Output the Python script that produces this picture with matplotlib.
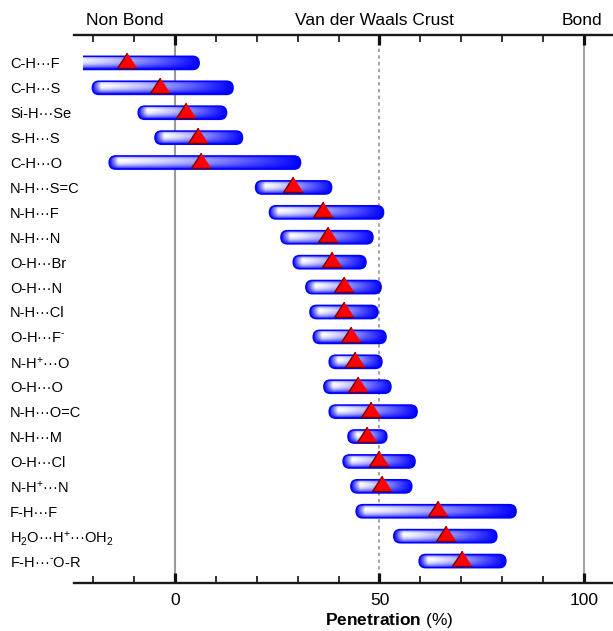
import numpy as np
import matplotlib
matplotlib.use("Agg")
import matplotlib.pyplot as plt
import matplotlib.transforms as mtransforms
from matplotlib.patches import FancyBboxPatch, BoxStyle
from matplotlib.ticker import FixedLocator

plt.rcParams['font.family'] = ['Liberation Sans', 'DejaVu Sans']
plt.rcParams['mathtext.fontset'] = 'custom'
plt.rcParams['mathtext.rm'] = 'Liberation Sans'
plt.rcParams['mathtext.it'] = 'Liberation Sans:italic'
plt.rcParams['mathtext.bf'] = 'Liberation Sans:bold'

# ---------------- data ----------------
bond_labels = [
    "C-H···F", "C-H···S", "Si-H···Se", "S-H···S", "C-H···O", "N-H···S=C",
    "N-H···F", "N-H···N", "O-H···Br", "O-H···N", "N-H···Cl", r"O-H···F$^{\text{-}}$",
    "N-H$^{+}$···O", "O-H···O", "N-H···O=C", "N-H···M", "O-H···Cl",
    "N-H$^{+}$···N", "F-H···F", "H$_{2}$O···H$^{+}$···OH$_{2}$", r"F-H···$^{\text{-}}$O-R",
]
range_low = [-22.5, -20.2, -9.0, -4.9, -16.1, 19.7, 23.1, 25.9, 28.9, 32.0, 33.0,
             33.8, 37.7, 36.4, 37.7, 42.3, 41.1, 43.0, 44.3, 53.5, 59.7]
range_high = [5.9, 14.2, 12.6, 16.5, 30.7, 38.3, 51.0, 48.4, 46.7, 50.4, 49.6,
              51.6, 50.6, 52.8, 59.2, 51.8, 58.7, 57.9, 83.4, 78.7, 80.9]
mean_pen = [-11.8, -3.6, 2.6, 5.5, 6.4, 28.9, 36.1, 37.5, 38.3, 41.2, 41.4,
            43.0, 44.0, 44.7, 47.9, 46.9, 49.9, 50.6, 64.3, 66.3, 70.2]
truncated_left = [True] + [False] * 20

region_labels = ["Non Bond", "Van der Waals Crust", "Bond"]
region_pos = [-12.2, 48.8, 99.4]
major_ticks = [0, 50, 100]
minor_ticks = [-20, -10, 10, 20, 30, 40, 60, 70, 80, 90]

# ---------------- figure ----------------
W, H, DPI = 613, 631, 100
fig = plt.figure(figsize=(W / DPI, H / DPI), dpi=DPI)
ax_l, ax_r, ax_t, ax_b = 74, 613, 35, 583
ax = fig.add_axes([ax_l / W, 1 - ax_b / H, (ax_r - ax_l) / W, (ax_b - ax_t) / H])

xlim = (-24.7, 107.1)
n = len(bond_labels)
ylim = (n - 1 + 0.88, -1.12)
px_x = (ax_r - ax_l) / (xlim[1] - xlim[0])
px_y = (ax_b - ax_t) / (ylim[0] - ylim[1])
aspect = px_x / px_y

bar_h = 0.53
r_x = bar_h * px_y / 2 / px_x

blue = np.array([0.0, 0.0, 1.0])
white = np.array([1.0, 1.0, 1.0])


def bar_image(length):
    nx, ny = 400, 60
    u = np.linspace(0, 1, nx)
    v = np.linspace(0, 1, ny)
    cap = min(1.4 * r_x / length, 0.4)
    hh = np.where(u < cap, 1 - u / cap, ((u - cap) / (1 - cap)) ** 1.25)
    hh = np.clip(hh, 0, 1)
    vc = 0.36
    g = np.where(v < vc, (vc - v) / vc, (v - vc) / (1 - vc))
    g = np.clip(g, 0, 1) ** 2.2
    t = 1 - (1 - hh[None, :]) * (1 - g[:, None])
    t = np.clip(t, 0, 1)
    img = white * (1 - t[..., None]) + blue * t[..., None]
    return img


ypos = np.arange(n)

# reference lines
ax.axvline(0, color="#9a9a9a", lw=1.5, zorder=1)
ax.axvline(100, color="#9a9a9a", lw=1.3, zorder=1)
ax.axvline(50, color="#8a8a8a", lw=1.1, ls=(0, (2.2, 2.2)), zorder=1)

for i in range(n):
    lo, hi, y = range_low[i], range_high[i], ypos[i]
    start = lo - 3 * r_x if truncated_left[i] else lo
    length = hi - start
    patch = FancyBboxPatch((start, y - bar_h / 2), length, bar_h,
                           boxstyle=BoxStyle.Round(pad=0, rounding_size=r_x * 0.999),
                           mutation_aspect=aspect, facecolor="none",
                           edgecolor="#0000ff", lw=1.1, zorder=3)
    ax.add_patch(patch)
    im = ax.imshow(bar_image(length), extent=(start, hi, y + bar_h / 2, y - bar_h / 2),
                   origin="upper", aspect="auto", interpolation="bilinear", zorder=2)
    im.set_clip_path(patch)
    if truncated_left[i]:
        cb = mtransforms.TransformedBbox(
            mtransforms.Bbox([[lo, -5], [200, 50]]), ax.transData)
        im.set_clip_box(cb)
        patch.set_clip_box(cb)

tri = [(0, 1.05), (-1, -0.5), (1, -0.5)]
ax.plot(mean_pen, ypos, linestyle="none", marker=tri, ms=15,
        mfc="#ff0000", mec="#700000", mew=1.0, zorder=5)

ax.set_xlim(*xlim)
ax.set_ylim(*ylim)

# spines
for s in ["left", "right"]:
    ax.spines[s].set_visible(False)
for s in ["top", "bottom"]:
    ax.spines[s].set_linewidth(1.7)
    ax.spines[s].set_color("#1a1a1a")
    ax.spines[s].set_zorder(6)

ax.xaxis.set_major_locator(FixedLocator(major_ticks))
ax.xaxis.set_minor_locator(FixedLocator(minor_ticks))
ax.tick_params(axis="x", which="major", direction="in", top=True, bottom=True,
               length=7.5, width=2.3, labelsize=12.5, pad=7, color="#111111")
ax.tick_params(axis="x", which="minor", direction="in", top=True, bottom=True,
               length=5, width=1.2, color="#111111")
ax.tick_params(axis="x", labeltop=False)

ax.set_yticks(ypos)
ax.set_yticklabels(bond_labels)
ax.tick_params(axis="y", length=0, pad=(ax_l - 10) * 72 / DPI, labelsize=10.5)
for lab in ax.get_yticklabels():
    lab.set_horizontalalignment("left")

trans = mtransforms.blended_transform_factory(ax.transData, ax.transAxes)
for txt, xp in zip(region_labels, region_pos):
    ax.text(xp, 1 + (ax_t - 20.5) / (ax_b - ax_t), txt, transform=trans,
            ha="center", va="center", fontsize=12.5)

ax.text(52.3, -(621 - ax_b) / (ax_b - ax_t), r"$\bf{Penetration}$ (%)",
        transform=trans, ha="center", va="center", fontsize=12.5)

fig.savefig("out.png", dpi=DPI, facecolor="white")
